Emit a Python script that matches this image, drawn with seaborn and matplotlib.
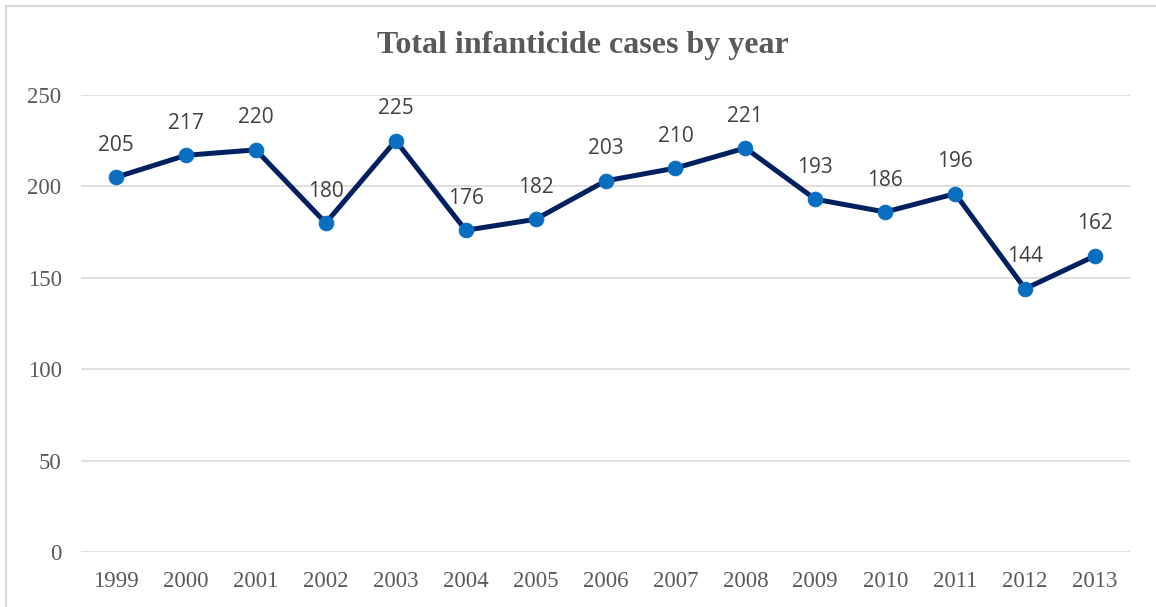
import matplotlib
matplotlib.use("Agg")
import matplotlib.pyplot as plt
import seaborn as sns
import pandas as pd

# Values
years = ["1999", "2000", "2001", "2002", "2003", "2004", "2005", "2006",
         "2007", "2008", "2009", "2010", "2011", "2012", "2013"]
cases = [205, 217, 220, 180, 225, 176, 182, 203, 210, 221, 193, 186, 196, 144, 162]
y_ticks = [0, 50, 100, 150, 200, 250]

df = pd.DataFrame({"year": years, "cases": cases})

sns.set_theme(style="white")
plt.rcParams['font.family'] = ['Liberation Serif', 'DejaVu Serif']

fig = plt.figure(figsize=(11.56, 6.07), dpi=100)
ax = fig.add_axes([81 / 1156, 1 - 552 / 607, (1130 - 81) / 1156, (552 - 95) / 607])

sns.lineplot(data=df, x="year", y="cases", ax=ax, color="#002060", linewidth=3.6,
             marker="o", markersize=10.5, markerfacecolor="#0A6EC0",
             markeredgecolor="#0A6EC0", sort=False, clip_on=False, zorder=3)

# data labels
for i, v in enumerate(cases):
    ax.annotate(str(v), (i, v), xytext=(0, 23), textcoords="offset points",
                ha="center", va="center", fontsize=15, color="#404040",
                family=["Open Sans", "DejaVu Sans"])

ax.set_xlim(-0.5, len(years) - 0.5)
ax.set_ylim(0, 250)
ax.set_yticks(y_ticks)
ax.yaxis.grid(True, color="#D9D9D9", linewidth=1.2)
ax.set_axisbelow(True)
for s in ax.spines.values():
    s.set_visible(False)
ax.tick_params(axis="both", length=0, labelsize=16.5, labelcolor="#595959")
ax.tick_params(axis="y", pad=14)
ax.tick_params(axis="x", pad=14)
ax.set_xlabel("")
ax.set_ylabel("")

fig.text(0.5045, 1 - 46 / 607, "Total infanticide cases by year", ha="center", va="center",
         fontsize=23, fontweight="bold", color="#595959")

# chart frame (top and left edges visible)
frame = plt.Rectangle((6 / 1156, -0.1), 1.2, 1 - 5.5 / 607 + 0.1, transform=fig.transFigure,
                      fill=False, edgecolor="#D9D9D9", linewidth=1.5)
fig.patches.append(frame)

fig.savefig("out.png", dpi=100)
